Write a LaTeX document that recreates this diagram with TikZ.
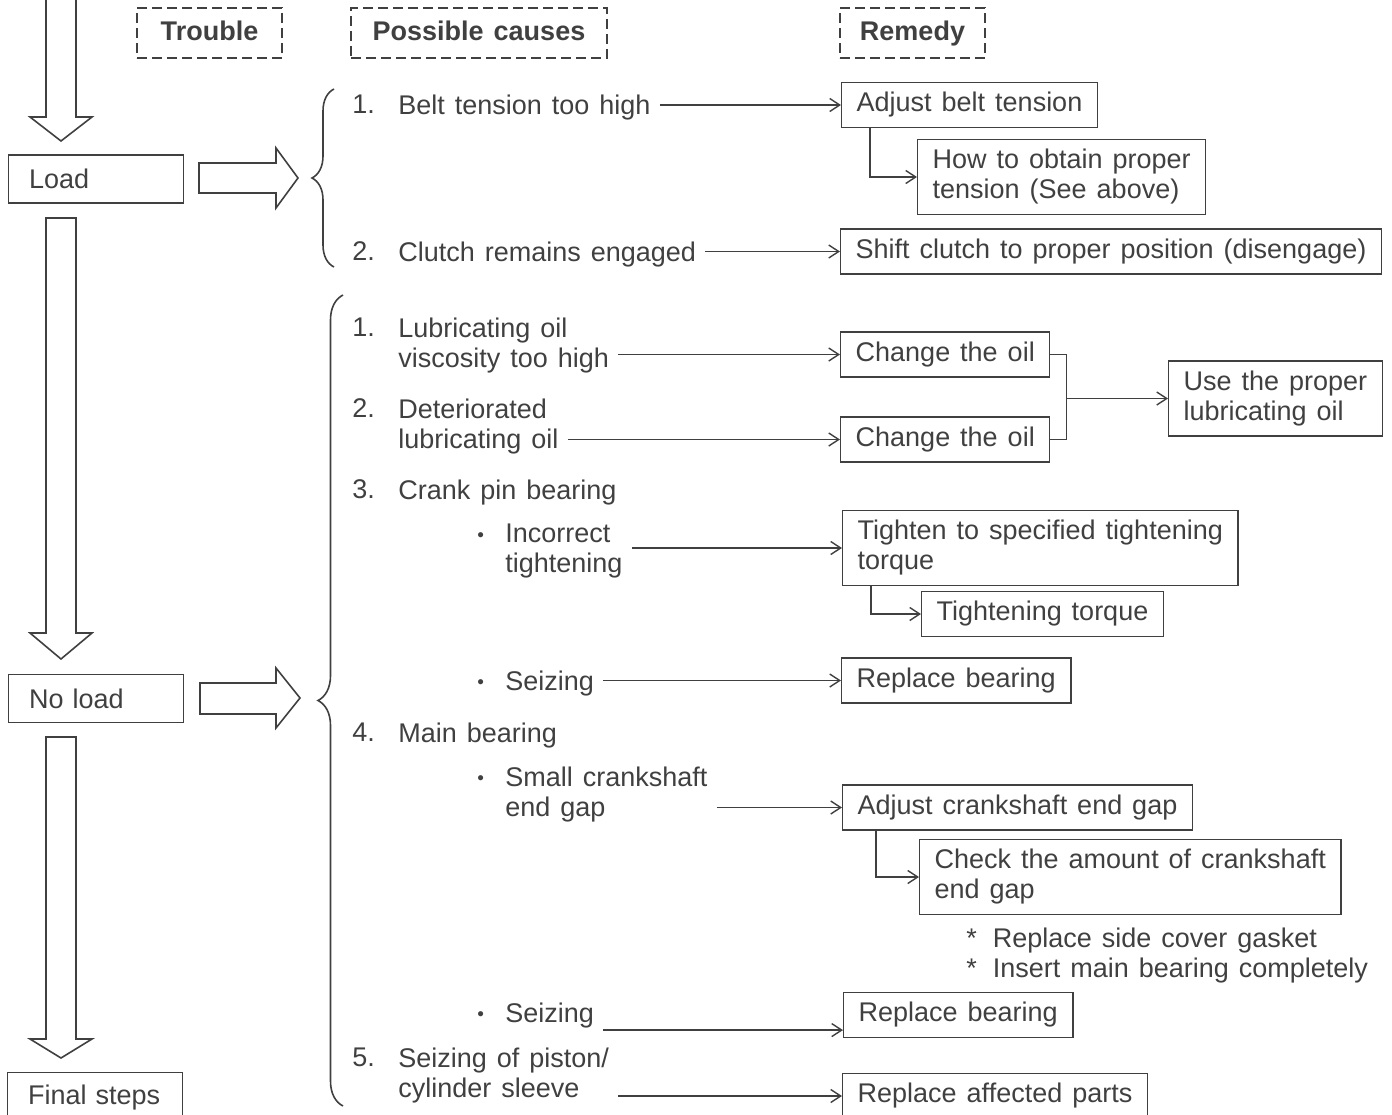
\documentclass[tikz,border=0pt]{standalone}
\usepackage{fontspec}
\setmainfont[WordSpace=1.33]{Liberation Sans}
\usetikzlibrary{arrows.meta,positioning,decorations.pathreplacing}
\definecolor{ink}{gray}{0.25}
\newcommand\diagfont{\fontsize{13.5}{15}\selectfont}
\newcommand\smalldot{{\fontsize{9.5}{9.5}\selectfont\raisebox{1pt}{\textbullet}}}

\begin{document}
\begin{tikzpicture}[x=0.5pt,y=-0.5pt,
every node/.style={font=\diagfont,text=ink},
head/.style={draw=ink,line width=0.7pt,dash pattern=on 5pt off 2.5pt,minimum height=25pt,text height=9.8pt,text depth=2.8pt,font=\diagfont\bfseries},
trouble/.style={draw=ink,line width=0.7pt,anchor=west,text width=67pt,inner xsep=10.25pt,minimum height=24pt,align=left},
cause/.style={anchor=north west,inner sep=0pt,align=left},
bul/.style={anchor=base west,inner sep=0pt},
remedy/.style={draw=ink,line width=0.7pt,anchor=west,align=left,inner xsep=7.5pt,inner ysep=4.9pt},
arrowline/.style={draw=ink,line width=0.7pt,-{Straight Barb[length=5pt,width=6.5pt]}},
gaparrow/.style={arrowline,shorten <=4.5pt},
link/.style={draw=ink,line width=0.7pt},
blockarrow/.style={draw=ink,line width=0.8pt,line join=miter},
curly/.style={draw=ink,line width=0.8pt,decorate,decoration={brace,amplitude=#1}}]
\path[use as bounding box,clip] (0,0) rectangle (1392,1114);

% column heads
\node[head,minimum width=72.5pt] (hTrouble) at (209.5,33) {Trouble};
\node[head,minimum width=128pt] (hCauses) at (479,33) {Possible causes};
\node[head,minimum width=72.5pt] (hRemedy) at (912.5,33) {Remedy};

% trouble column
\node[trouble] (load) at (8,179) {Load};
\node[trouble] (noload) at (8,698.5) {No load};
\node[trouble,anchor=north west,minimum height=25pt] (final) at (7,1072) {Final steps};
\draw[blockarrow] (46,-4) -- (46,117) -- (30,117) -- (61,141) -- (92,117) -- (76,117) -- (76,-4);
\draw[blockarrow] (46,218) -- (46,633) -- (30,633) -- (61,659) -- (92,633) -- (76,633) -- (76,218) -- cycle;
\draw[blockarrow] (46,737) -- (46,1039) -- (30,1039) -- (61,1058) -- (92,1039) -- (76,1039) -- (76,737) -- cycle;
\draw[blockarrow] (199,163) -- (276,163) -- (276,148) -- (298,178) -- (276,208) -- (276,193) -- (199,193) -- cycle;
\draw[blockarrow] (200,683) -- (276,683) -- (276,668) -- (300,698) -- (276,728) -- (276,714) -- (200,714) -- cycle;

% braces
\draw[curly=11pt] (334,267) -- (334,89);
\draw[curly=12.5pt] (343,1106) -- (343,295);

% causes, load
\node[cause] (n11) at (352,94.5) {1.};
\node[cause] (c11) at (398,94.5) {Belt tension too high};
\node[cause] (n12) at (352,241.5) {2.};
\node[cause] (c12) at (398,241.5) {Clutch remains engaged};

% causes, no load
\node[cause] (n21) at (352,317.5) {1.};
\node[cause] (c21) at (398,317.5) {Lubricating oil\\viscosity too high};
\node[cause] (n22) at (352,398.5) {2.};
\node[cause] (c22) at (398,398.5) {Deteriorated\\lubricating oil};
\node[cause] (n23) at (352,479.5) {3.};
\node[cause] (c23) at (398,479.5) {Crank pin bearing};
\node[bul] (b31) at (477,543) {\smalldot};
\node[cause] (c31) at (505,523.5) {Incorrect\\tightening};
\node[bul] (b32) at (477,690) {\smalldot};
\node[cause] (c32) at (505,670.5) {Seizing};
\node[cause] (n24) at (352,722.5) {4.};
\node[cause] (c24) at (398,722.5) {Main bearing};
\node[bul] (b41) at (477,786) {\smalldot};
\node[cause] (c41) at (505,766.5) {Small crankshaft\\end gap};
\node[bul] (b42) at (477,1022) {\smalldot};
\node[cause] (c42) at (505,1002.5) {Seizing};
\node[cause] (n25) at (352,1047.5) {5.};
\node[cause] (c25) at (398,1047.5) {Seizing of piston/\\cylinder sleeve};

% remedies
\node[remedy] (r11) at (841,105) {Adjust belt tension};
\node[remedy] (r12) at (917,177) {How to obtain proper\\tension (See above)};
\node[remedy] (r13) at (840,251.5) {Shift clutch to proper position (disengage)};
\node[remedy] (r21) at (840,354.5) {Change the oil};
\node[remedy] (r22) at (840,439.5) {Change the oil};
\node[remedy] (r23) at (1168,398.5) {Use the proper\\lubricating oil};
\node[remedy] (r31) at (842,548) {Tighten to specified tightening\\torque};
\node[remedy] (r32) at (921,614) {Tightening torque};
\node[remedy] (r33) at (841,680.5) {Replace bearing};
\node[remedy] (r41) at (842,807.5) {Adjust crankshaft end gap};
\node[remedy] (r42) at (919,877) {Check the amount of crankshaft\\end gap};
\node[cause] (notes) at (966,927.5) {*\hspace{8pt}Replace side cover gasket\\*\hspace{8pt}Insert main bearing completely};
\node[remedy] (r43) at (843,1015) {Replace bearing};
\node[remedy] (r51) at (842,1096) {Replace affected parts};

% arrows
\draw[gaparrow] (c11.east |- r11.west) -- (r11.west);
\draw[gaparrow] (c12.east |- r13.west) -- (r13.west);
\draw[gaparrow] (c21.east |- r21.west) -- (r21.west);
\draw[gaparrow] (c22.east |- r22.west) -- (r22.west);
\draw[gaparrow] (c31.east |- r31.west) -- (r31.west);
\draw[gaparrow] (c32.east |- r33.west) -- (r33.west);
\draw[gaparrow] (c41.east |- r41.west) -- (r41.west);
\coordinate (r43in) at ([yshift=4pt]r43.south west);
\draw[gaparrow] (c42.east |- r43in) -- (r43in);
\draw[gaparrow] (c25.east |- r51.west) -- (r51.west);
\draw[arrowline] ([xshift=14.5pt]r11.south west) |- (r12.west);
\draw[arrowline] ([xshift=14.5pt]r31.south west) |- (r32.west);
\draw[arrowline] ([xshift=17pt]r41.south west) |- (r42.west);
\draw[link] (r21.east) -- ++(8pt,0pt) coordinate (oilj) |- (r22.east);
\draw[arrowline] (oilj |- r23.west) -- (r23.west);
\end{tikzpicture}
\end{document}
